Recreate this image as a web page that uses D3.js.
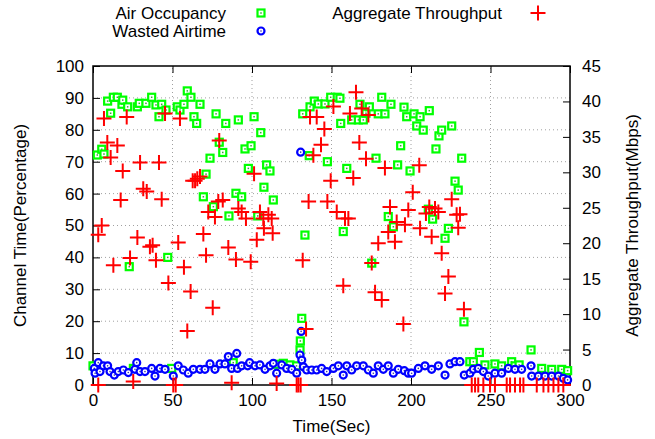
<!DOCTYPE html>
<html>
<head>
<meta charset="utf-8">
<script src="https://cdn.jsdelivr.net/npm/d3@7"></script>
<style>
  body { margin: 0; background: #fff; }
  svg { display: block; font-family: "Liberation Sans", Arial, sans-serif; }
</style>
</head>
<body>
<svg id="chart" width="655" height="439"></svg>
<script>
// tick values
var xTicks = [0, 50, 100, 150, 200, 250, 300];
var yLeftTicks = [0, 10, 20, 30, 40, 50, 60, 70, 80, 90, 100];
var yRightTicks = [0, 5, 10, 15, 20, 25, 30, 35, 40, 45];

// Air Occupancy (%)
var airTimes = [0, 2.7, 5.5, 6.9, 9.2, 11.1, 12.8, 15.3, 18.2, 18.7, 21.8, 22.8, 25.4, 27.9, 29.1, 33.3, 36.9, 39.6,
  41.5, 43.2, 45.9, 47.0, 49.5, 53.0, 54.7, 57.2, 59.3, 61.6, 63.5, 65.2, 67.3, 69.4, 71.1, 73.6, 75.7, 77.4, 79.4,
  81.6, 83.5, 85.5, 88.2, 89.9, 91.4, 93.5, 95.6, 97.7, 99.4, 101.3, 103.6, 105.5, 107.5, 109.2, 111.3, 113.4, 115,
  119.7, 123.9, 128, 130.2, 130.4, 131.3, 131.9, 133.3, 136, 136.5, 139.2, 141.7, 145.9, 147.4, 149.5, 153.6, 155.3,
  155.8, 157.4, 159.6, 162.7, 166.9, 167.9, 170, 171.7, 173.8, 175.3, 178, 179.4, 181.6, 183.6, 185.7, 187.4, 188.9,
  191.6, 193.5, 195.6, 197.3, 199.4, 201.9, 203.6, 205.7, 207.7, 210.9, 211.5, 213.6, 215.7, 217.6, 219.3, 221.4,
  223.5, 225.6, 227.7, 229.7, 231.9, 233.3, 237, 239.2, 243, 246.5, 252.8, 257, 263.3, 265.4, 268, 275.5, 282.2,
  288.5, 294.8, 298.5];
var airValues = [6, 72.1, 73.9, 72.4, 89, 85.2, 90.2, 90.2, 88, 89.3, 87.2, 37.1, 5.2, 87.2, 88.3, 88.3, 90.2, 87.8,
  84.1, 88, 86.2, 40, 5.2, 87.2, 86.2, 88, 92.2, 90.2, 84.1, 82, 88, 59, 66.1, 71.1, 55.9, 85, 76.1,
  72.9, 82, 53, 7, 60.1, 83.1, 59, 74, 67.9, 75, 84.1, 53, 79.1, 62, 69, 67.1, 58, 6.5,
  6.8, 6.3, 6, 11, 13.8, 20.9, 85, 47, 71.9, 87.2, 89, 88.1, 88.1, 70, 90.2, 90.2, 89.9,
  82, 48.1, 67.9, 83.1, 83.1, 88, 83.1, 85.2, 87.2, 38.2, 71.1, 85, 90.2, 85, 52.8, 88, 49.6,
  69, 75, 87.1, 84.1, 67.1, 85, 81.2, 84.1, 79.9, 55.1, 86, 52, 74, 78.1, 79.9, 46,
  49.1, 81.2, 63.9, 61.1, 71.1, 19.8, 7.3, 7.3, 10.2, 6.3, 6.6, 6, 7.3, 6, 6.3, 11, 5.2,
  4.9, 4.9, 4.5];

// Wasted Airtime (%)
var wastedTimes = [0.8, 1.3, 3.3, 4.4, 6.5, 9.2, 10.7, 13.4, 15.9, 19.1, 22.2, 26.4, 27.5, 29.6, 32.7, 36.9, 39,
  42.1, 45.3, 50.5, 53.6, 56.8, 59.9, 63.1, 67.3, 70.4, 73.6, 76.7, 79.9, 83, 85.1, 87.2, 90.4, 90.9, 93.5, 97.3,
  98.5, 101.9, 105, 108.2, 111.3, 113.4, 115.5, 118.7, 121.8, 125, 128.1, 130.2, 130.6, 130.9, 131.3, 132.3, 134.4,
  137.6, 140.7, 143.8, 147, 151.2, 154.3, 157.4, 159.6, 162.7, 165.8, 170, 173.2, 176.3, 179.4, 182.6, 185.7, 188.9,
  192, 195.8, 198.3, 200.4, 204.6, 208.8, 213, 217.2, 221.4, 224.5, 227.7, 230.8, 233.5, 237.1, 239.2, 242.3, 245.5,
  248.6, 252.8, 257, 261.2, 265.4, 269.6, 275.5, 275.9, 280.1, 284.3, 288.5, 292.7, 295.8, 298.5];
var wastedValues = [5.2, 3.7, 7, 4.2, 6, 6, 4.2, 3.1, 4.2, 4.7, 3.9, 4.9, 7, 4.2, 4.2, 5.2, 2.8,
  5.2, 4.9, 2.8, 6, 4.7, 3.7, 4.9, 4.9, 4.9, 6.6, 4.9, 6.6, 6.6, 8.9, 5.2, 9.9, 5.2, 6, 6,
  7, 6, 6.3, 4.9, 6, 6.8, 3.7, 6.3, 5.2, 4.9, 3.7, 9.4, 73, 16.8, 7.8, 5.7, 4.7,
  4.7, 4.7, 5.2, 4.2, 5.2, 6, 3.1, 6, 4.7, 6, 6, 4.7, 3.7, 6, 4.9, 6, 3.7,
  4.9, 4.5, 3.7, 3.7, 5.2, 6, 4.9, 6, 3.1, 6.6, 7.3, 7.3, 3.1, 3.7, 4.9, 5.2, 4.2,
  2.8, 3.7, 3.7, 5.2, 4.9, 4.9, 6, 2.8, 2.8, 2.8, 2.8, 2.8, 2.1, 1.6];

// Aggregate Throughput (Mbps), right axis
var tputTimes = [3.3, 3.3, 5.5, 6.9, 9, 11.1, 12.8, 15.3, 17.4, 18.7, 21.2, 23.3, 25.3, 27.9, 29.6, 31.6, 33.8,
  35.8, 37.5, 39.6, 41.5, 43.2, 45.3, 47.4, 50.5, 52, 53.6, 54.7, 57.2, 59.3, 61.4, 62.7, 64.2, 65.6, 67.3, 69.4,
  71.1, 72.5, 75.3, 76.7, 78.8, 79.4, 81.6, 85.1, 87.2, 89.9, 91.4, 93.5, 96.2, 99.2, 101.3, 103, 105, 107.1, 107.5,
  110.3, 112.4, 113, 115.5, 128.1, 129.2, 130.6, 131.9, 134, 135.6, 136.5, 138.6, 140.7, 143.4, 145.5, 147.4, 149.5,
  151.2, 153.3, 157.4, 158.5, 160.6, 161.6, 163.7, 165.4, 167.5, 169, 171.7, 173.2, 175.3, 177.4, 179.4, 181.6,
  183.6, 185.7, 186.8, 189.9, 191, 195.2, 196.2, 198.3, 201.1, 205.2, 205.7, 209.4, 211.5, 213, 215.1, 217.2,
  219.3, 221.4, 223.5, 225.6, 228.7, 229.7, 230.8, 233.3, 238.2, 240.3, 242.3, 245.5, 249.7, 252.8, 260.2, 262.3,
  265.4, 268.6, 270.7, 279.1, 283.3, 286.4, 289.6, 292.7, 295.8];
var tputValues = [0, 21.2, 22.5, 37.6, 34.2, 32.1, 16.9, 33.8, 26.1, 30.2, 37.8, 17.9, 0.5, 20.8, 31.4, 27.7, 27.3,
  19.5, 19.7, 17.6, 31.4, 26.2, 38.3, 14.4, 0, 0, 20.1, 37.6, 16.6, 7.6, 13.2, 28.8, 28.8, 29.1, 29.4, 21.3,
  18.3, 24.4, 10.9, 23.7, 25.9, 34.5, 26.1, 19.4, 0.3, 17.7, 24.9, 24.4, 23.5, 17.4, 29.8, 20.5, 24.4, 23.5, 22.1,
  24, 23.5, 21.4, 0.2, 0, 0, 0, 17.6, 7.9, 25.9, 37.8, 32.4, 37.8, 33.9, 36.1, 25.9, 28.8,
  39.3, 24.4, 14, 23.5, 23.5, 38.3, 29.2, 41.3, 34.2, 39, 31.9, 38.1, 17.2, 13.1, 20, 12,
  30.6, 21.6, 25.1, 20.2, 23, 8.6, 22.6, 24.7, 27.2, 31, 22.1, 24.2, 25.1, 20.9, 24.9, 24.4,
  18.6, 12.9, 15.3, 26.2, 24, 22.2, 24.1, 10.7, 0, 0, 0, 0, 0, 0, 0, 0,
  0, 0, 0, 0, 0, 0, 0, 0, 0];

var GREEN = "#00ff00", BLUE = "#0000ff", RED = "#ff0000";

var svg = d3.select("#chart");
var x = d3.scaleLinear().domain([0, 300]).range([93, 570]);
var yL = d3.scaleLinear().domain([0, 100]).range([385, 66]);
var yR = d3.scaleLinear().domain([0, 45]).range([385, 66]);

// dotted grid
var grid = svg.append("g").attr("stroke", "#a0a0a0").attr("stroke-width", 1).attr("stroke-dasharray", "1,3");
grid.selectAll("line.gx").data(xTicks.slice(1, -1)).enter().append("line")
  .attr("x1", function (d) { return x(d); }).attr("x2", function (d) { return x(d); })
  .attr("y1", yL(0)).attr("y2", yL(100));
grid.selectAll("line.gy").data(yLeftTicks.slice(1, -1)).enter().append("line")
  .attr("x1", x(0)).attr("x2", x(300))
  .attr("y1", function (d) { return yL(d); }).attr("y2", function (d) { return yL(d); });

function styleAxis(g) {
  g.select(".domain").remove();
  g.selectAll("line").attr("stroke", "#000");
  g.selectAll("text").attr("font-size", 17).attr("fill", "#000")
    .attr("font-family", "'Liberation Sans', Arial, sans-serif");
}

svg.append("g").attr("transform", "translate(0," + yL(0) + ")")
  .call(d3.axisBottom(x).tickValues(xTicks).tickSize(-7).tickPadding(9)).call(styleAxis);
svg.append("g").attr("transform", "translate(0," + yL(100) + ")")
  .call(d3.axisTop(x).tickValues(xTicks).tickSize(-7).tickFormat("")).call(styleAxis);
svg.append("g").attr("transform", "translate(" + x(0) + ",0)")
  .call(d3.axisLeft(yL).tickValues(yLeftTicks).tickSize(-7).tickPadding(9)).call(styleAxis);
svg.append("g").attr("transform", "translate(" + x(300) + ",0)")
  .call(d3.axisRight(yR).tickValues(yRightTicks).tickSize(-7).tickPadding(12)).call(styleAxis);

// frame
svg.append("rect").attr("x", x(0)).attr("y", yL(100))
  .attr("width", x(300) - x(0)).attr("height", yL(0) - yL(100))
  .attr("fill", "none").attr("stroke", "#000").attr("stroke-width", 1.5);

// marker painters
function boxDot(g, cx, cy) {
  g.append("rect").attr("x", cx - 3.5).attr("y", cy - 3.5).attr("width", 7).attr("height", 7)
    .attr("fill", "#fff").attr("stroke", GREEN).attr("stroke-width", 2.2);
  g.append("rect").attr("x", cx - 0.75).attr("y", cy - 0.75).attr("width", 1.5).attr("height", 1.5)
    .attr("fill", "#3a3").attr("stroke", "none");
}
function circleDot(g, cx, cy) {
  g.append("circle").attr("cx", cx).attr("cy", cy).attr("r", 3.5)
    .attr("fill", "#fff").attr("stroke", BLUE).attr("stroke-width", 2.2);
  g.append("circle").attr("cx", cx).attr("cy", cy).attr("r", 0.8).attr("fill", "#33a");
}
function plus(g, cx, cy) {
  g.append("path").attr("d", "M" + (cx - 7.5) + "," + cy + "h15M" + cx + "," + (cy - 7.5) + "v15")
    .attr("stroke", RED).attr("stroke-width", 2).attr("fill", "none");
}

var gAir = svg.append("g");
airTimes.forEach(function (t, i) { boxDot(gAir, x(t), yL(airValues[i])); });
var gWasted = svg.append("g");
wastedTimes.forEach(function (t, i) { circleDot(gWasted, x(t), yL(wastedValues[i])); });
var gTput = svg.append("g");
tputTimes.forEach(function (t, i) { plus(gTput, x(t), yR(tputValues[i])); });

// key
var key = svg.append("g").attr("font-size", 17).attr("fill", "#000");
key.append("text").attr("x", 226).attr("y", 19).attr("text-anchor", "end").text("Air Occupancy");
boxDot(key, 261, 13);
key.append("text").attr("x", 226).attr("y", 37).attr("text-anchor", "end").text("Wasted Airtime");
circleDot(key, 261, 31);
key.append("text").attr("x", 502).attr("y", 19).attr("text-anchor", "end").text("Aggregate Throughput");
plus(key, 538, 13);

// axis titles
svg.append("text").attr("x", (x(0) + x(300)) / 2).attr("y", 432).attr("text-anchor", "middle")
  .attr("font-size", 17).text("Time(Sec)");
svg.append("text").attr("transform", "translate(26," + (yL(50)) + ") rotate(-90)")
  .attr("text-anchor", "middle").attr("font-size", 17).text("Channel Time(Percentage)");
svg.append("text").attr("transform", "translate(638," + (yL(50)) + ") rotate(-90)")
  .attr("text-anchor", "middle").attr("font-size", 17).text("Aggregate Throughput(Mbps)");
</script>
</body>
</html>
